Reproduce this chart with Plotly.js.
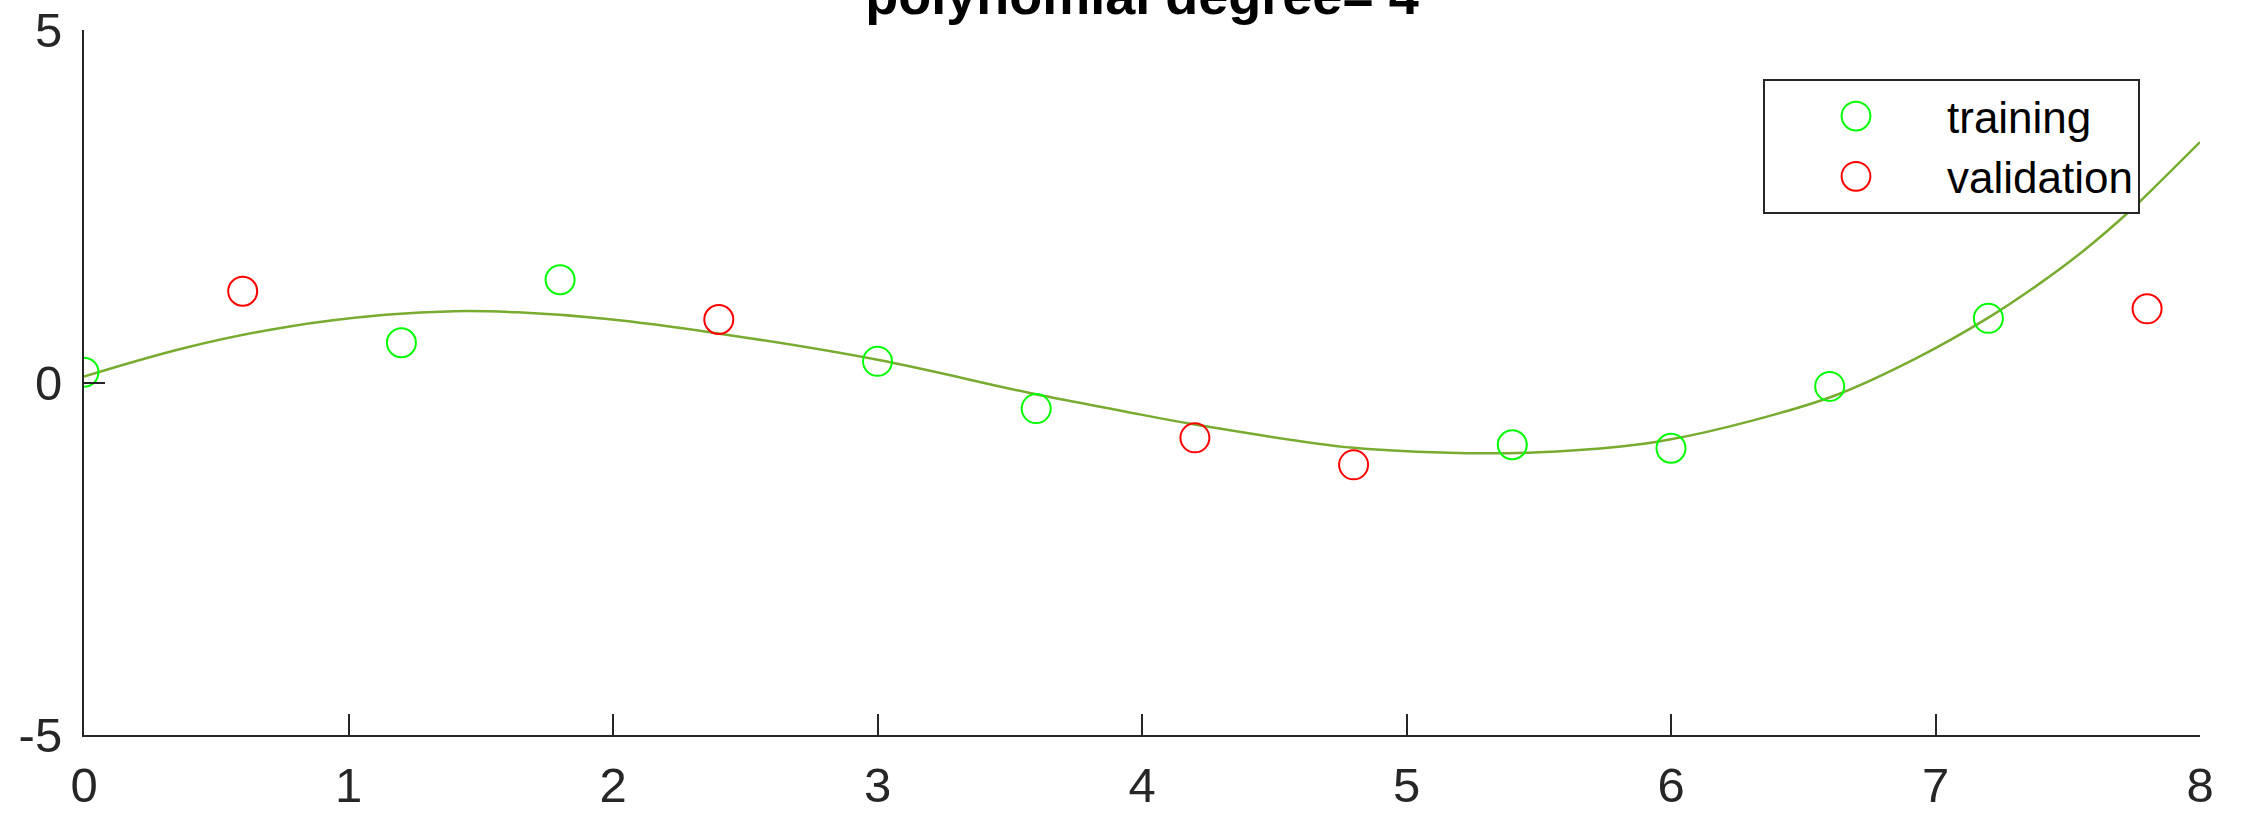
<!DOCTYPE html>
<html>
<head>
<meta charset="utf-8">
<script src="https://cdn.plot.ly/plotly-3.0.1.min.js"></script>
<style>
  html, body { margin: 0; padding: 0; background: #fff; }
  #chart { width: 2241px; height: 820px; }
</style>
</head>
<body>
<div id="chart"></div>
<script>
// Training points (green circles)
const trainX = [0, 1.2, 1.8, 3.0, 3.6, 5.4, 6.0, 6.6, 7.2];
const trainY = [0.146, 0.563, 1.457, 0.30, -0.37, -0.884, -0.932, -0.055, 0.91];

// Validation points (red circles)
const validX = [0.6, 2.4, 4.2, 4.8, 7.8];
const validY = [1.295, 0.894, -0.785, -1.168, 1.045];

// Fitted polynomial curve (degree 4)
const fitX = [0, 0.38, 0.76, 1.14, 1.4, 1.64, 1.97, 2.39, 3.0, 3.59, 3.92, 4.2, 4.8, 5.23, 5.48, 5.81, 5.99, 6.3, 6.62, 6.93, 7.2, 7.4, 7.56, 7.74, 7.82, 8.0];
const fitY = [0.085, 0.49, 0.785, 0.96, 1.012, 0.995, 0.903, 0.70, 0.322, -0.16, -0.40, -0.596, -0.927, -1.002, -0.993, -0.908, -0.813, -0.548, -0.184, 0.35, 0.92, 1.42, 1.87, 2.45, 2.74, 3.41];

// Labels
const titleText = 'polynomial degree= 4';
const trainName = 'training';
const validName = 'validation';
const xTicks = [0, 1, 2, 3, 4, 5, 6, 7, 8];
const yTicks = [-5, 0, 5];

const FONT = '"Liberation Sans", Arial, Helvetica, sans-serif';
const AX = '#262626';

const traces = [
  {
    x: fitX, y: fitY, type: 'scatter', mode: 'lines',
    line: { color: '#77AC30', width: 2.5, shape: 'spline', smoothing: 1 },
    showlegend: false, hoverinfo: 'skip'
  },
  {
    x: trainX, y: trainY, type: 'scatter', mode: 'markers', name: trainName,
    marker: { symbol: 'circle-open', size: 29, color: '#00FF00', line: { width: 2, color: '#00FF00' } }
  },
  {
    x: validX, y: validY, type: 'scatter', mode: 'markers', name: validName,
    marker: { symbol: 'circle-open', size: 29, color: '#FF0000', line: { width: 2, color: '#FF0000' } }
  }
];

const layout = {
  width: 2241, height: 820,
  paper_bgcolor: '#fff', plot_bgcolor: '#fff',
  margin: { l: 84, r: 41, t: 30, b: 85, pad: 0 },
  font: { family: FONT, color: AX, size: 49 },
  title: {
    text: titleText,
    font: { family: FONT, size: 54, color: '#000', weight: 'bold' },
    xref: 'paper', x: 0.5, xanchor: 'center',
    yref: 'container', y: 1 - 14.3 / 820, yanchor: 'bottom',
    automargin: false
  },
  xaxis: {
    range: [0, 8], tickmode: 'array', tickvals: xTicks, ticktext: xTicks.map(String),
    ticks: 'inside', ticklen: 21, tickwidth: 2, tickcolor: AX,
    showline: true, linecolor: AX, linewidth: 2, mirror: false,
    showgrid: false, zeroline: false,
    tickfont: { family: FONT, size: 49, color: AX },
    ticklabelstandoff: 6, fixedrange: true
  },
  yaxis: {
    range: [-5, 5], tickmode: 'array', tickvals: yTicks, ticktext: yTicks.map(String),
    ticks: 'inside', ticklen: 21, tickwidth: 2, tickcolor: AX,
    showline: true, linecolor: AX, linewidth: 2, mirror: false,
    showgrid: false, zeroline: false,
    tickfont: { family: FONT, size: 49, color: AX },
    ticklabelstandoff: 10, fixedrange: true
  },
  showlegend: true,
  legend: {
    x: (1763 - 84) / 2116, xanchor: 'left',
    y: (735 - 79) / 705, yanchor: 'top',
    bgcolor: '#fff', bordercolor: AX, borderwidth: 2,
    font: { family: FONT, size: 44, color: '#000' },
    itemwidth: 172, tracegroupgap: 0
  }
};

Plotly.newPlot('chart', traces, layout, { staticPlot: true, displayModeBar: false }).then(function (gd) {
  // enlarge the legend symbols to match the plotted marker size
  gd.querySelectorAll('.legend .legendpoints path').forEach(function (p) {
    const t = p.getAttribute('transform') || '';
    p.setAttribute('transform', t + ' scale(1.8)');
    p.style.vectorEffect = 'non-scaling-stroke';
  });
});
</script>
</body>
</html>
